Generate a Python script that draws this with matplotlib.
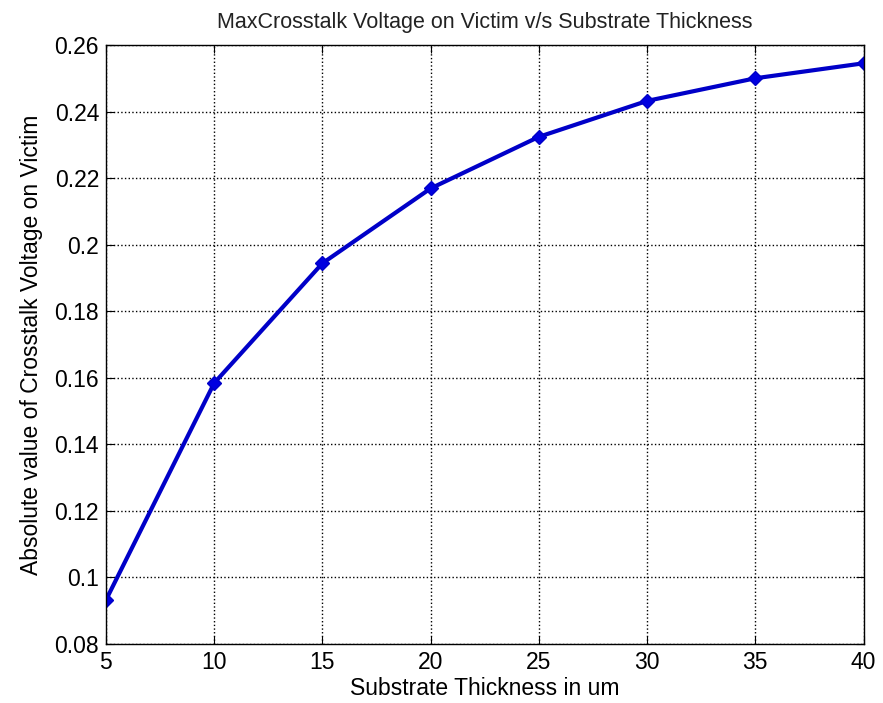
import matplotlib
matplotlib.use("Agg")
import matplotlib.pyplot as plt

thickness = [5, 10, 15, 20, 25, 30, 35, 40]
crosstalk = [0.0932, 0.1584, 0.1944, 0.2169, 0.2324, 0.2432, 0.2500, 0.2545]
xticks = [5, 10, 15, 20, 25, 30, 35, 40]
yticks = [0.08, 0.1, 0.12, 0.14, 0.16, 0.18, 0.2, 0.22, 0.24, 0.26]
yticklabels = ["0.08", "0.1", "0.12", "0.14", "0.16", "0.18", "0.2", "0.22", "0.24", "0.26"]

plt.rcParams['font.family'] = ['Liberation Sans', 'DejaVu Sans']

fig = plt.figure(figsize=(8.83, 7.03), dpi=100)
ax = fig.add_axes([0.120, 0.084, 0.858, 0.852])
ax.plot(thickness, crosstalk, color='#0000c8', linewidth=3, marker='D',
        markersize=7, markerfacecolor='#0000e0', markeredgecolor='#0000c8')
ax.set_xlim(5, 40)
ax.set_ylim(0.08, 0.26)
ax.set_xticks(xticks)
ax.set_yticks(yticks)
ax.set_yticklabels(yticklabels)
ax.grid(True, linestyle=':', color='black', linewidth=1)
ax.tick_params(direction='in', top=True, right=True, labelsize=16.5, length=6, pad=5)
for s in ax.spines.values():
    s.set_linewidth(1)
ax.set_title("MaxCrosstalk Voltage on Victim v/s Substrate Thickness", fontsize=15.5, pad=12,
             color='#222222')
ax.set_xlabel("Substrate Thickness in um", fontsize=16.5, labelpad=2)
ax.set_ylabel("Absolute value of Crosstalk Voltage on Victim", fontsize=16.5, labelpad=8)
fig.savefig("out.png", dpi=100)
